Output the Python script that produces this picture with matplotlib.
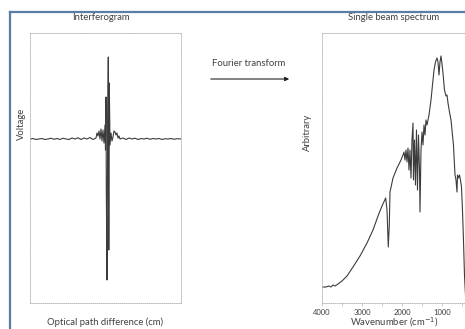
import matplotlib
matplotlib.use("Agg")
import matplotlib.pyplot as plt
from matplotlib.lines import Line2D
from matplotlib.ticker import MultipleLocator

plt.rcParams['font.family'] = ['Lato', 'DejaVu Sans']

# ---- Interferogram (optical path difference in arbitrary px-like units, voltage arbitrary) ----
opd = [0, 3, 6, 9, 12, 15, 18, 21, 24, 27, 30, 33, 36, 39, 42, 45, 48, 51, 54, 57, 60, 63, 66,
       67, 68, 69, 70, 71, 72, 73, 74, 75, 75.5, 76, 76.3, 77, 77.7, 78.3, 78.8, 79.3, 80, 81, 82,
       83, 84, 85, 86, 87, 88, 89, 90, 93, 96, 99, 102, 105, 108, 111, 114, 117, 120, 123, 126,
       129, 132, 135, 138, 141, 144, 147, 151]
voltage = [0, 0.5, -0.5, 0, 0.5, -0.5, 0, 0.8, -0.3, 0.5, -0.5, 0.8, 0, -0.5, 1, 0, 1.2, -0.5, 1, 0, 1.5, -0.5, 1,
           6, 3, 8, 0, 10, -2, 9, -4, 14, -11, 42, -49, -141, 19, 82, -111, 56, -6, 6, -2, 2, 8,
           7, 4, 6, 1, 3, 0, 1, -0.5, 1, 0, 0.8, -0.5, 0.5, 0, 0.8, -0.3, 0.5, 0,
           0.5, -0.5, 0.3, 0, 0.5, -0.3, 0.3, 0]

# ---- Single beam spectrum ----
wavenumber = [4000, 3900, 3825, 3775, 3725, 3675, 3600, 3500, 3375, 3225, 3050, 2875, 2725, 2600, 2500,
              2408, 2375, 2343, 2318, 2300, 2225, 2125, 2025, 1975, 1950, 1925, 1900, 1875, 1850,
              1825, 1800, 1775, 1750, 1725, 1713, 1688, 1663, 1638, 1613, 1588, 1563, 1550, 1525,
              1500, 1475, 1450, 1425, 1400, 1375, 1325, 1275, 1238, 1200, 1163, 1125, 1100, 1075,
              1050, 1025, 1000, 975, 938, 900, 875, 850, 813, 775, 738, 713, 688, 675, 650, 625,
              613, 588, 563, 538, 513, 488, 463, 438, 413]
intensity = [16, 16, 17, 16, 18, 17, 19, 22, 27, 36, 47, 60, 73, 87, 97,
             105, 93, 56, 78, 111, 125, 135, 143, 148, 151, 143, 153, 141, 155,
             133, 153, 125, 163, 180, 123, 163, 118, 173, 113, 168, 133, 91, 153,
             171, 158, 178, 168, 183, 178, 188, 203, 218, 233, 241, 245, 241, 228,
             241, 247, 239, 230, 213, 207, 208, 200, 191, 183, 168, 158, 138, 128, 123, 111,
             128, 125, 128, 123, 116, 93, 63, 28, 8]

W, H = 465, 329
fig = plt.figure(figsize=(W / 100, H / 100), dpi=100)
fig.patch.set_facecolor('white')

txt_col = '#404040'
line_col = '#3c3c3c'
frame_col = '#b0b0b0'

def style_frame(ax):
    for s in ax.spines.values():
        s.set_linestyle((0, (1, 1.5)))
        s.set_color(frame_col)
        s.set_linewidth(0.6)

# Left: interferogram
ax1 = fig.add_axes([30 / W, 1 - 303 / H, 151 / W, 270 / H])
ax1.plot(opd, voltage, color=line_col, lw=0.8)
ax1.set_xlim(0, 151)
ax1.set_ylim(-164, 106)
ax1.set_xticks([])
ax1.set_yticks([])
style_frame(ax1)

# Right: spectrum
ax2 = fig.add_axes([322 / W, 1 - 303 / H, 3620 * 0.04 / W, 270 / H])
ax2.plot(wavenumber, intensity, color=line_col, lw=0.8)
ax2.set_xlim(4000, 380)
ax2.set_ylim(0, 270)
ax2.set_yticks([])
ax2.set_xticks([4000, 3000, 2000, 1000])
ax2.xaxis.set_minor_locator(MultipleLocator(500))
ax2.tick_params(axis='x', which='both', length=2, width=0.5, color=frame_col,
                labelsize=5.5, labelcolor=txt_col, pad=2)
style_frame(ax2)

# Texts
fs = 6.8
fig.text(101 / W, 1 - 17 / H, 'Interferogram', ha='center', va='center', fontsize=fs, color=txt_col)
fig.text(394 / W, 1 - 17 / H, 'Single beam spectrum', ha='center', va='center', fontsize=fs, color=txt_col)
fig.text(21 / W, 1 - 124 / H, 'Voltage', ha='center', va='center', rotation=90, fontsize=fs, color=txt_col)
fig.text(307 / W, 1 - 132 / H, 'Arbitrary', ha='center', va='center', rotation=90, fontsize=fs, color=txt_col)
fig.text(105 / W, 1 - 322 / H, 'Optical path difference (cm)', ha='center', va='center', fontsize=fs, color=txt_col)
fig.text(394 / W, 1 - 322 / H, 'Wavenumber (cm$^{-1}$)', ha='center', va='center', fontsize=fs, color=txt_col)
fig.text(249 / W, 1 - 64 / H, 'Fourier transform', ha='center', va='center', fontsize=fs, color=txt_col)

# Arrow
fig.add_artist(matplotlib.patches.FancyArrowPatch((208 / W, 1 - 79 / H), (292 / W, 1 - 79 / H),
                                                  transform=fig.transFigure, arrowstyle='-|>',
                                                  mutation_scale=6, color='#222222', lw=0.8))

# Blue border
border = '#5b7ea8'
fig.add_artist(Line2D([10 / W, 1], [1 - 12 / H, 1 - 12 / H], transform=fig.transFigure, color=border, lw=1.6))
fig.add_artist(Line2D([10 / W, 10 / W], [0, 1 - 12 / H], transform=fig.transFigure, color=border, lw=1.6))

fig.savefig('out.png', dpi=100, facecolor='white')
